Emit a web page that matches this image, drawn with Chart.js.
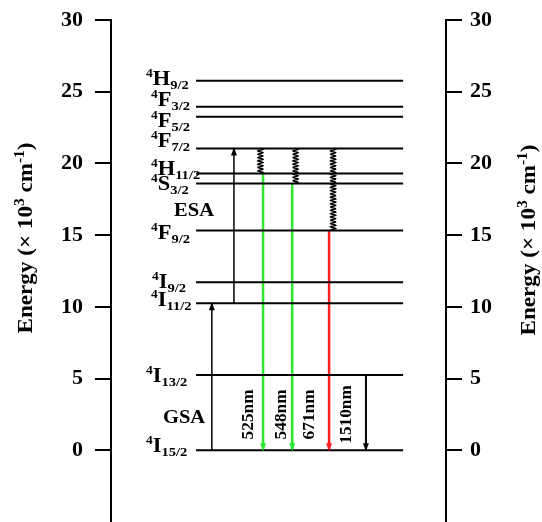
<!DOCTYPE html>
<html>
<head>
<meta charset="utf-8">
<script src="https://cdn.jsdelivr.net/npm/chart.js@4.4.1/dist/chart.umd.min.js"></script>
<style>
  body { margin: 0; background: #fff; }
</style>
</head>
<body>
<canvas id="levels" width="542" height="522"></canvas>
<script>
// Er3+ energy levels (x10^3 cm-1)
const levelTerms = ["I", "I", "I", "I", "F", "S", "H", "F", "F", "F", "H"];
const levelJ = ["15/2", "13/2", "11/2", "9/2", "9/2", "3/2", "11/2", "7/2", "5/2", "3/2", "9/2"];
const levelEnergy = [0, 5.25, 10.26, 11.72, 15.33, 18.6, 19.3, 21.04, 23.26, 23.96, 25.77];
const tickValues = [0, 5, 10, 15, 20, 25, 30];

// absorption (upward) arrows
const pumpLabels = ["GSA", "ESA"];
const pumpFrom = [0, 10.26];
const pumpTo = [10.26, 21.04];

// non-radiative relaxation from 4F7/2
const relaxFrom = [21.04, 21.04, 21.04];
const relaxTo = [19.3, 18.6, 15.33];

// emissions down to 4I15/2
const emitLabels = ["525nm", "548nm", "671nm", "1510nm"];
const emitFrom = [19.3, 18.6, 15.33, 5.25];
const emitTo = [0, 0, 0, 0];

// layout (x runs 0..100 across the plot)
const LEVEL_X = [25.4, 87.2];
const LABEL_LEFT = [146, 146, 151, 152, 151, 151, 151, 151, 151, 151, 146]; // px
const LABEL_DY = [2, 7, 3, 6, 9, 6, 2, -2, 10, -1, 4]; // baseline offset of level names, px
const PUMP_X = [30.1, 36.7];
const PUMP_LABEL_POS = [[21.8, 2.4], [24.8, 16.8]];
const RELAX_X = [44.6, 55.1, 66.3];
const EMIT_X = [45.4, 54.1, 65.1, 76.1];
const EMIT_LABEL_X = [40.6, 50.4, 58.8, 69.9];
const EMIT_COLORS = ["#2de82d", "#2de82d", "#ff1f1f", "#000000"];
const SERIF = "'Liberation Serif', 'Times New Roman', serif";

const datasets = [];
levelEnergy.forEach((e) => {
  datasets.push({
    data: [{ x: LEVEL_X[0], y: e }, { x: LEVEL_X[1], y: e }],
    showLine: true, borderColor: "#000", borderWidth: 2, pointRadius: 0,
  });
});
pumpFrom.forEach((e, i) => {
  datasets.push({
    data: [{ x: PUMP_X[i], y: e }, { x: PUMP_X[i], y: pumpTo[i] }],
    showLine: true, borderColor: "#000", borderWidth: 1.5, pointRadius: 0, arrow: true,
  });
});
emitFrom.forEach((e, i) => {
  datasets.push({
    data: [{ x: EMIT_X[i], y: e }, { x: EMIT_X[i], y: emitTo[i] }],
    showLine: true, borderColor: EMIT_COLORS[i], borderWidth: i < 3 ? 2.5 : 2,
    pointRadius: 0, arrow: true,
  });
});

// draws a run of text pieces (normal / sup / sub) side by side, stretched by sx
function drawParts(c, parts, x, y, align, sx) {
  let w = 0;
  parts.forEach((p) => {
    c.font = "bold " + p.size + "px " + SERIF;
    p.w = c.measureText(p.t).width;
    w += p.w;
  });
  let cx = align === "right" ? -w : align === "center" ? -w / 2 : 0;
  c.save();
  c.translate(x, y);
  c.scale(sx, 1);
  parts.forEach((p) => {
    c.font = "bold " + p.size + "px " + SERIF;
    c.fillText(p.t, cx, p.dy || 0);
    cx += p.w;
  });
  c.restore();
}

function axisTitle(c, cx, cy) {
  c.save();
  c.translate(cx, cy);
  c.rotate(-Math.PI / 2);
  drawParts(c, [
    { t: "Energy (\u00D7 10", size: 21 },
    { t: "3", size: 14, dy: -8 },
    { t: " cm", size: 21 },
    { t: "-1", size: 14, dy: -8 },
    { t: ")", size: 21 },
  ], 0, 7, "center", 1.1);
  c.restore();
}

const diagram = {
  id: "diagram",
  afterDatasetsDraw(chart) {
    const c = chart.ctx;
    const xs = chart.scales.x, ys = chart.scales.y;
    c.save();

    // arrow heads
    chart.data.datasets.forEach((ds, i) => {
      if (!ds.arrow) return;
      const pts = chart.getDatasetMeta(i).data;
      const a = pts[0], b = pts[1];
      const dir = b.y > a.y ? 1 : -1;
      c.fillStyle = ds.borderColor;
      c.beginPath();
      c.moveTo(b.x, b.y + dir);
      c.lineTo(b.x - 3, b.y - dir * 7);
      c.lineTo(b.x + 3, b.y - dir * 7);
      c.closePath();
      c.fill();
    });

    // wavy relaxation lines
    c.strokeStyle = "#000";
    c.lineWidth = 1.4;
    relaxFrom.forEach((e, i) => {
      const x = xs.getPixelForValue(RELAX_X[i]);
      const y0 = ys.getPixelForValue(e), y1 = ys.getPixelForValue(relaxTo[i]);
      c.beginPath();
      for (let y = y0; y <= y1; y += 0.4) {
        const dx = 2.6 * Math.sin((2 * Math.PI * (y - y0)) / 3.3);
        if (y === y0) c.moveTo(x + dx, y); else c.lineTo(x + dx, y);
      }
      c.stroke();
    });

    c.fillStyle = "#000";
    c.textBaseline = "alphabetic";

    // level labels, e.g. 4H9/2
    levelEnergy.forEach((e, i) => {
      const y = ys.getPixelForValue(e);
      drawParts(c, [
        { t: "4", size: 12, dy: -8 },
        { t: levelTerms[i], size: 20 },
        { t: levelJ[i], size: 13, dy: 4 },
      ], LABEL_LEFT[i], y + LABEL_DY[i], "left", 1.12);
    });

    // GSA / ESA
    pumpLabels.forEach((t, i) => {
      drawParts(c, [{ t: t, size: 19 }], xs.getPixelForValue(PUMP_LABEL_POS[i][0]),
        ys.getPixelForValue(PUMP_LABEL_POS[i][1]) + 7, "center", 1.08);
    });

    // wavelengths, rotated
    emitLabels.forEach((t, i) => {
      c.save();
      c.translate(xs.getPixelForValue(EMIT_LABEL_X[i]), ys.getPixelForValue(2.5));
      c.rotate(-Math.PI / 2);
      drawParts(c, [{ t: t, size: 16 }], 0, 6, "center", 1.08);
      c.restore();
    });

    // axis titles
    axisTitle(c, 25, 238);
    axisTitle(c, 528, 240);
    c.restore();
  },
};

function axisOpts(pos, width, pad) {
  return {
    type: "linear",
    axis: "y",
    position: pos,
    min: -5,
    max: 30,
    afterBuildTicks: (s) => { s.ticks = tickValues.map((v) => ({ value: v })); },
    afterFit: (s) => {
      s.width = width;
      s.paddingTop = 0;
      s.paddingBottom = 0;
    },
    grid: { drawOnChartArea: false, drawTicks: true, tickLength: 16, color: "#000", lineWidth: 2 },
    border: { display: true, color: "#000", width: 2 },
    ticks: {
      color: "#000",
      padding: pad,
      font: { family: SERIF, size: 22, weight: "bold" },
    },
  };
}

new Chart(document.getElementById("levels").getContext("2d"), {
  type: "scatter",
  data: { datasets: datasets },
  options: {
    responsive: false,
    animation: false,
    layout: { padding: { top: 20, bottom: 0, left: 0, right: 0 } },
    plugins: { legend: { display: false }, tooltip: { enabled: false } },
    scales: {
      x: { type: "linear", display: false, min: 0, max: 100 },
      y: axisOpts("left", 111, 12),
      y2: axisOpts("right", 96, 8),
    },
  },
  plugins: [diagram],
});
</script>
</body>
</html>
